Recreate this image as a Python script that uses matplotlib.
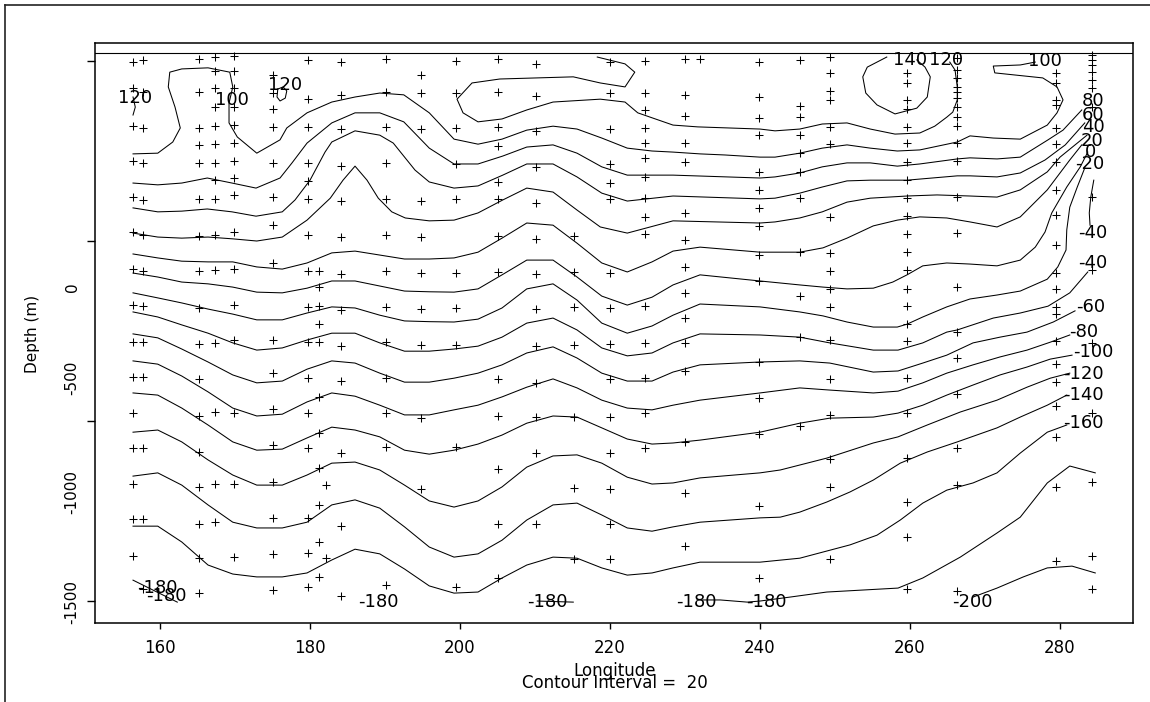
import matplotlib.pyplot as plt
from matplotlib.lines import Line2D
from matplotlib.ticker import NullFormatter

# longitudes of the contour grid columns shared by most isolines (west part)
grid_lon = [156.4, 159.7, 162.9, 166.4, 169.7, 172.9, 176.3, 179.6, 182.9, 186.0,
            189.3, 192.6, 195.9, 199.2, 202.4, 205.6, 208.9, 212.4, 215.6, 218.9,
            222.3, 225.6, 228.4, 232.0]

# contour 140 (small closed loop near the surface)
lon_p140 = [256.9, 254.3, 253.7, 254.1, 255.6, 258.0, 260.9, 262.3, 262.7, 262.0, 260.9]
dep_p140 = [11, -17, -44, -89, -122, -147, -131, -100, -44, -17, 3]

# contour 120
lon_p120 = [218.3, 222.0, 223.3, 222.0, 218.7, 215.1, 205.3, 201.6, 199.6, 200.4,
            202.4, 205.6, 208.9, 212.4, 218.7, 222.0, 223.7, 228.4, 231.7, 240.0,
            242.0, 245.3, 248.3, 251.6, 254.7, 258.0, 261.3, 263.3, 264.9, 265.7,
            266.3, 266.3, 266.0, 265.3]
dep_p120 = [11, -8, -31, -72, -61, -44, -50, -61, -106, -144,
            -169, -161, -136, -114, -106, -114, -144, -178, -183, -189,
            -194, -189, -175, -172, -189, -203, -200, -181, -156, -142,
            -108, -72, -25, -3]
lon_p120_w = [156.4, 156.7, 156.4]
dep_p120_w = [-100, -128, -150]
lon_p120_s = [175.7, 175.6, 176.0, 176.7, 176.9, 176.4, 175.7]
dep_p120_s = [-78, -100, -111, -103, -83, -72, -78]

# contour 100
lon_p100 = [156.4, 159.7, 161.7, 162.7, 162.0, 161.1, 161.3, 162.9, 166.4, 169.3,
            169.7, 169.2, 169.2, 170.3, 172.9, 176.0, 176.9, 179.6, 182.9, 186.0,
            189.3, 192.5, 195.9, 199.2, 202.4, 205.6, 208.9, 212.4, 215.6, 218.9,
            222.3, 225.6, 228.4, 232.0, 235.3, 240.0, 242.0, 245.3, 248.3, 251.6,
            254.7, 258.3, 261.3, 266.3, 268.0, 271.1, 274.7, 278.3, 279.6, 280.4,
            279.6, 277.7, 271.3, 271.1, 274.7, 276.7]
dep_p100 = [-258, -256, -225, -186, -128, -72, -31, -22, -19, -31,
            -72, -117, -172, -211, -256, -219, -186, -144, -114, -100,
            -89, -94, -144, -217, -231, -217, -192, -181, -189, -214,
            -242, -250, -253, -258, -261, -267, -267, -256, -242, -233,
            -242, -250, -247, -225, -208, -214, -217, -178, -144, -108,
            -72, -47, -33, -14, -11, -3]

# contour 80
lon_p80 = [156.4, 159.7, 162.9, 166.3, 169.6, 172.8, 176.0, 177.6, 179.6, 182.9,
           186.0, 189.3, 192.5, 195.9, 199.2, 202.4, 205.7, 208.9, 212.4, 215.6,
           218.9, 222.3, 228.4, 240.0, 242.0, 245.3, 248.3, 251.6, 254.7, 258.3,
           261.3, 266.3, 268.0, 271.6, 274.7, 278.4, 280.4, 282.9]
dep_p80 = [-339, -344, -339, -325, -339, -353, -325, -283, -228, -172,
           -144, -144, -169, -242, -286, -286, -264, -239, -233, -256,
           -294, -317, -317, -325, -322, -311, -294, -283, -283, -292,
           -286, -272, -269, -272, -267, -219, -192, -136]

# contour 60
lon_p60 = [156.4, 159.7, 162.9, 166.3, 169.6, 172.8, 176.3, 178.0, 180.0, 182.0,
           182.9, 186.0, 189.3, 191.1, 194.0, 195.9, 199.2, 202.4, 205.7, 208.9,
           212.4, 215.6, 218.9, 222.3, 228.4, 240.0, 242.0, 245.3, 248.3, 251.6,
           254.7, 259.6, 266.3, 268.0, 271.6, 274.7, 278.0, 280.7, 283.3]
dep_p60 = [-408, -419, -417, -411, -419, -431, -419, -386, -331, -253,
           -225, -194, -206, -228, -303, -336, -353, -347, -317, -286,
           -286, -322, -367, -389, -375, -383, -381, -367, -350, -333,
           -331, -331, -319, -319, -322, -311, -275, -233, -172]

# contour 40
lon_p40 = [156.4, 159.7, 162.9, 166.4, 169.7, 172.9, 176.3, 179.6, 182.7, 184.4,
           186.0, 187.6, 189.1, 190.9, 192.7, 195.9, 199.2, 202.4, 205.7, 208.9,
           212.4, 215.6, 218.7, 222.3, 228.4, 240.0, 242.0, 245.3, 248.3, 251.6,
           254.7, 259.6, 263.6, 268.0, 271.6, 274.7, 278.3, 280.0, 283.6]
dep_p40 = [-478, -489, -492, -489, -494, -500, -489, -442, -381, -331,
           -292, -331, -381, -419, -436, -444, -442, -422, -386, -353,
           -364, -414, -461, -478, -444, -450, -447, -436, -419, -392,
           -381, -375, -372, -375, -378, -358, -308, -267, -206]

# contour 20
lon_p20 = grid_lon + [240.0, 245.3, 248.4, 251.6, 255.1, 258.3, 261.3, 264.9, 268.0,
                      271.6, 274.7, 278.3, 281.3, 282.9]
dep_p20 = [-536, -547, -556, -558, -558, -572, -578, -561, -533, -528,
           -539, -550, -550, -547, -531, -492, -450, -456, -506, -561,
           -586, -558, -528, -517,
           -531, -531, -519, -492, -458, -442, -433, -436, -447,
           -461, -433, -358, -275, -233]

# contour 0
lon_z0 = grid_lon + [240.0, 245.3, 248.4, 251.6, 255.1, 257.7, 259.6, 261.7, 264.9,
                     268.0, 271.6, 274.7, 276.7, 278.0, 278.9, 280.9, 282.7, 283.7]
dep_z0 = [-589, -600, -614, -619, -628, -642, -644, -631, -611, -611,
          -625, -639, -641, -642, -633, -594, -553, -553, -600, -653,
          -678, -656, -622, -594,
          -611, -622, -628, -633, -631, -614, -594, -569, -561,
          -564, -569, -553, -517, -475, -422, -350, -294, -253]

# contour -20
lon_m20 = grid_lon + [240.0, 245.3, 248.4, 251.6, 255.1, 258.3, 259.6, 261.7, 264.9,
                      268.0, 271.6, 274.7, 278.3, 279.7, 280.8, 280.9, 281.3, 282.3, 283.3]
dep_m20 = [-644, -658, -672, -689, -703, -719, -719, -700, -683, -686,
           -706, -722, -724, -725, -717, -686, -633, -619, -664, -728,
           -756, -736, -706, -675,
           -683, -697, -708, -725, -739, -739, -731, -711, -683,
           -661, -650, -639, -606, -572, -525, -469, -406, -350, -297]

# contour -40 (main line and short piece at the east edge)
lon_m40 = grid_lon + [240.0, 245.3, 249.3, 255.1, 258.4, 261.7, 264.9, 266.3, 271.1,
                      274.7, 278.4, 281.3, 283.7]
dep_m40 = [-697, -711, -733, -756, -783, -803, -797, -775, -756, -756,
           -783, -806, -806, -800, -792, -767, -728, -714, -747, -797,
           -819, -811, -783, -758,
           -761, -767, -783, -803, -803, -783, -753, -747, -714,
           -700, -681, -644, -586]
lon_m40_e = [284.5, 284.1, 283.9, 284.0]
dep_m40_e = [-331, -378, -422, -456]

# contour -60
lon_m60 = grid_lon + [240.0, 245.3, 249.3, 255.1, 258.4, 261.7, 264.9, 268.4, 272.0,
                      275.6, 279.1, 282.0]
dep_m60 = [-758, -769, -800, -836, -872, -894, -889, -856, -833, -839,
           -867, -892, -892, -881, -867, -844, -811, -794, -825, -867,
           -889, -889, -864, -844,
           -836, -833, -839, -864, -861, -839, -817, -783, -767, -753, -725, -694]

# contour -80
lon_m80 = grid_lon + [240.0, 245.3, 249.3, 255.1, 258.4, 261.7, 264.9, 268.4, 272.0,
                      275.6, 278.7, 281.3]
dep_m80 = [-833, -842, -875, -919, -964, -986, -981, -947, -922, -931,
           -956, -983, -983, -969, -956, -933, -906, -883, -908, -942,
           -964, -969, -956, -942,
           -922, -908, -914, -922, -917, -894, -867, -844, -822, -803, -781, -761]

# contour -100
lon_m100 = grid_lon + [240.0, 245.3, 249.3, 255.1, 258.4, 261.7, 264.9, 268.4, 272.0,
                       275.6, 278.7, 281.6]
dep_m100 = [-922, -928, -964, -1011, -1058, -1081, -1078, -1047, -1017, -1025,
            -1044, -1081, -1092, -1081, -1064, -1039, -1006, -986, -989, -1019,
            -1050, -1064, -1061, -1053,
            -1031, -1006, -992, -989, -978, -956, -928, -900, -872, -850, -828, -817]

# contour -120
lon_m120 = grid_lon + [240.0, 242.7, 248.9, 255.1, 258.4, 262.3, 266.7, 271.6, 275.6,
                       278.7, 281.3]
dep_m120 = [-1031, -1025, -1058, -1108, -1150, -1178, -1178, -1150, -1117, -1114,
            -1136, -1178, -1222, -1239, -1222, -1183, -1128, -1097, -1094, -1117,
            -1156, -1175, -1172, -1158,
            -1144, -1136, -1103, -1061, -1044, -1011, -975, -942, -906, -881, -867]

# contour -140
lon_m140 = grid_lon + [240.0, 242.7, 245.3, 248.9, 252.0, 255.1, 258.7, 262.3, 266.3,
                       271.6, 274.7, 278.3, 280.9]
dep_m140 = [-1153, -1144, -1178, -1233, -1281, -1297, -1297, -1281, -1233, -1219,
            -1242, -1294, -1350, -1378, -1369, -1331, -1275, -1233, -1228, -1261,
            -1297, -1306, -1294, -1281,
            -1269, -1267, -1253, -1225, -1197, -1164, -1117, -1086, -1058,
            -1019, -989, -956, -928]

# contour -160
lon_m160 = grid_lon + [240.0, 245.3, 252.0, 255.6, 258.7, 261.7, 264.9, 268.4, 271.6,
                       274.7, 278.3, 280.9]
dep_m160 = [-1292, -1292, -1336, -1400, -1425, -1433, -1433, -1422, -1386, -1356,
            -1369, -1411, -1458, -1478, -1475, -1436, -1400, -1378, -1381, -1408,
            -1428, -1422, -1408, -1392,
            -1392, -1381, -1344, -1317, -1275, -1228, -1192, -1172, -1144,
            -1089, -1031, -1011]

# contour -180 (three pieces) and -200
lon_m180_w = [156.4, 162.3]
dep_m180_w = [-1442, -1503]
lon_m180_c = [210.3, 215.1]
dep_m180_c = [-1500, -1503]
lon_m180_e = [231.6, 234.7, 238.3, 240.0, 244.0, 248.9, 258.4, 261.7, 266.7, 271.6,
              274.7, 278.3, 281.3, 284.7]
dep_m180_e = [-1497, -1497, -1503, -1500, -1489, -1475, -1464, -1436, -1378, -1311,
              -1267, -1172, -1125, -1144]
lon_m200 = [268.4, 271.6, 275.1, 278.3, 281.6, 284.7]
dep_m200 = [-1489, -1464, -1433, -1408, -1403, -1422]

# contour labels
label_text = ["120", "100", "120", "140", "120", "100", "80", "60", "40", "20", "0",
              "-20", "-40", "-40", "-60", "-80", "-100", "-120", "-140", "-160",
              "-180", "-180", "-180", "-180", "-200", "-180", "-180"]
label_lon = [156.7, 169.6, 176.7, 260.0, 264.8, 278.0, 284.4, 284.4, 284.4, 284.3, 284.1,
             283.9, 284.4, 284.4, 284.1, 283.1, 284.5, 283.1, 283.1, 283.1,
             189.1, 211.6, 231.5, 240.8, 268.3, 159.7, 160.9]
label_dep = [-103, -108, -67, 3, 3, 0, -111, -150, -183, -222, -253,
             -286, -478, -561, -683, -753, -808, -869, -928, -1006,
             -1503, -1503, -1503, -1503, -1503, -1464, -1486]

# station casts (longitude, sample depths)
cast_lon = [156.4, 157.7, 165.2, 167.3, 169.9, 175.1, 179.7, 181.2, 182.1, 184.1,
            190.1, 194.8, 199.5, 205.1, 210.1, 215.2, 220.0, 224.7, 230.0, 232.0,
            239.9, 245.3, 249.3, 259.6, 266.3, 279.5, 284.3]
cast_depths = [
    [-3, -75, -181, -278, -378, -475, -578, -678, -781, -878, -978, -1075, -1175, -1272, -1375],
    [3, -86, -186, -283, -386, -483, -583, -681, -781, -878, -1075, -1272, -1467],
    [6, -86, -186, -233, -283, -383, -486, -583, -686, -786, -883, -986, -1086, -1183, -1286, -1381, -1478],
    [11, -28, -75, -128, -181, -231, -283, -331, -383, -483, -581, -783, -975, -1175, -1281],
    [14, -28, -75, -128, -178, -228, -278, -325, -372, -475, -578, -678, -775, -978, -1175, -1378],
    [-39, -89, -133, -183, -283, -378, -456, -561, -775, -867, -967, -1067, -1169, -1269, -1369, -1469],
    [3, -106, -183, -283, -333, -383, -483, -583, -683, -781, -881, -978, -1075, -1269, -1367, -1461],
    [-583, -628, -681, -731, -781, -933, -1033, -1131, -1233, -1336, -1433],
    [-1178, -1381],
    [-3, -94, -189, -292, -389, -489, -592, -692, -792, -889, -1089, -1292, -1486],
    [6, -86, -183, -283, -383, -483, -583, -683, -781, -881, -978, -1072, -1456],
    [-39, -89, -189, -389, -489, -589, -689, -789, -992, -1189],
    [0, -89, -186, -286, -383, -589, -686, -789, -1072, -1461],
    [6, -86, -183, -236, -336, -383, -486, -586, -883, -986, -1133, -1286, -1436],
    [-8, -97, -194, -294, -394, -494, -592, -689, -792, -894, -989, -1089, -1286],
    [-486, -586, -683, -789, -989, -1186, -1383],
    [-3, -89, -189, -286, -339, -383, -589, -686, -786, -883, -989, -1089, -1189, -1286, -1383],
    [0, -89, -136, -186, -228, -269, -322, -381, -433, -481, -681, -783, -881, -978, -1075],
    [6, -94, -153, -228, -281, -422, -497, -572, -644, -714, -783, -861, -1058, -1200, -1347],
    [6],
    [-3, -100, -158, -206, -308, -358, -408, -458, -539, -611, -836, -936, -1036, -1236, -1436],
    [3, -125, -156, -206, -256, -308, -381, -531, -653, -767, -1014],
    [11, -33, -83, -108, -183, -231, -433, -533, -583, -633, -683, -775, -883, -983, -1106, -1183, -1383],
    [-33, -61, -108, -133, -183, -228, -281, -331, -381, -431, -481, -531, -581, -633, -681,
     -731, -778, -881, -978, -1103, -1225, -1322, -1467],
    [8, -25, -47, -72, -86, -103, -128, -156, -181, -228, -278, -378, -478, -628, -753, -825,
     -925, -1075, -1178, -1472],
    [-33, -61, -108, -122, -186, -231, -281, -358, -428, -511, -589, -633, -683, -703, -778,
     -842, -892, -958, -1044, -1183, -1389],
    [17, 3, -11, -31, -53, -75, -128, -378, -581, -783, -978, -1169, -1375, -1467],
]

lon_ticks = [160, 180, 200, 220, 240, 260, 280]
depth_ticks = [0, -500, -1000, -1500]
depth_tick_text = ["0", "-500", "-1000", "-1500"]
depth_text_pos = [-628, -881, -1197, -1503]

contours = [
    (lon_p140, dep_p140), (lon_p120, dep_p120), (lon_p120_w, dep_p120_w),
    (lon_p120_s, dep_p120_s), (lon_p100, dep_p100), (lon_p80, dep_p80),
    (lon_p60, dep_p60), (lon_p40, dep_p40), (lon_p20, dep_p20), (lon_z0, dep_z0),
    (lon_m20, dep_m20), (lon_m40, dep_m40), (lon_m40_e, dep_m40_e),
    (lon_m60, dep_m60), (lon_m80, dep_m80), (lon_m100, dep_m100),
    (lon_m120, dep_m120), (lon_m140, dep_m140), (lon_m160, dep_m160),
    (lon_m180_w, dep_m180_w), (lon_m180_c, dep_m180_c), (lon_m180_e, dep_m180_e),
    (lon_m200, dep_m200),
]

W, H = 1150, 702
fig = plt.figure(figsize=(W / 100, H / 100), dpi=100)
ax = fig.add_axes([95 / W, 1 - 623 / H, 1038 / W, 580 / H])

for lon, dep in contours:
    ax.plot(lon, dep, color="black", lw=0.75)

for lon, deps in zip(cast_lon, cast_depths):
    ax.plot([lon] * len(deps), deps, linestyle="none", marker="+",
            ms=5.5, mew=0.75, color="black")

for txt, lon, dep in zip(label_text, label_lon, label_dep):
    ax.text(lon, dep, txt, fontsize=13, ha="center", va="center", color="black")

# surface reference line
ax.axhline(22, color="black", lw=0.8)

ax.set_xlim(151.33, 289.73)
ax.set_ylim(-1561, 50)

ax.set_xticks(lon_ticks)
ax.tick_params(axis="x", direction="out", length=4.5, width=1, pad=7, labelsize=12)
ax.yaxis.remove_overlapping_locs = False
ax.set_yticks(depth_ticks)
ax.yaxis.set_major_formatter(NullFormatter())
ax.set_yticks(depth_text_pos, labels=depth_tick_text, minor=True)
ax.tick_params(axis="y", which="major", direction="out", length=6, width=1)
ax.tick_params(axis="y", which="minor", length=0, pad=11, labelsize=11, labelrotation=90)
for lab in ax.get_yticklabels(minor=True):
    lab.set_va("center")

for sp in ax.spines.values():
    sp.set_linewidth(1.1)

fig.text(32 / W, 1 - 334 / H, "Depth (m)", rotation=90, ha="center", va="center", fontsize=11)
fig.text(615 / W, 1 - 676 / H, "Longitude", ha="center", va="baseline", fontsize=12)
fig.text(615 / W, 1 - 688 / H, "Contour Interval =  20", ha="center", va="baseline", fontsize=12)

# outer page frame (left and top edges)
fig.add_artist(Line2D([5 / W, 5 / W], [0, 1 - 5 / H], transform=fig.transFigure,
                      color="#222222", lw=1.2))
fig.add_artist(Line2D([5 / W, 1], [1 - 5 / H, 1 - 5 / H], transform=fig.transFigure,
                      color="#222222", lw=1.2))

fig.savefig("out.png", dpi=100)
